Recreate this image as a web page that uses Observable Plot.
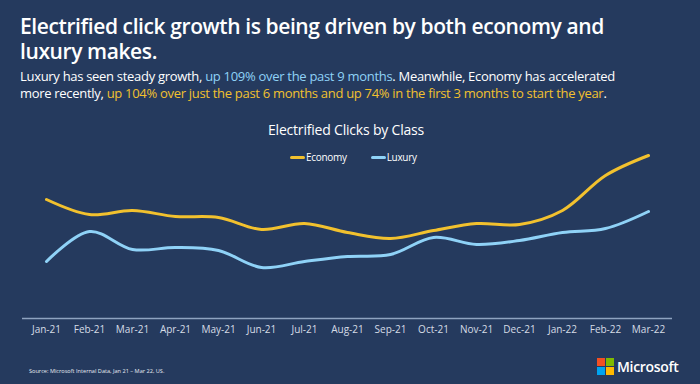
<!DOCTYPE html>
<html>
<head>
<meta charset="utf-8">
<script src="https://cdn.jsdelivr.net/npm/d3@7"></script>
<script src="https://cdn.jsdelivr.net/npm/@observablehq/plot@0.6"></script>
<style>
  html, body { margin: 0; padding: 0; }
  body { width: 700px; height: 384px; background: #253a5e; position: relative; overflow: hidden;
         font-family: "Open Sans", "Noto Sans", sans-serif; color: #fff; }
  .abs { position: absolute; white-space: nowrap; }
  .tl { left: 20px; font-size: 21px; font-weight: 600; line-height: 21px; letter-spacing: -0.4px; }
  #subtitle { left: 20px; top: 68px; font-size: 13px; line-height: 17px; letter-spacing: -0.3px; }
  .blue { color: #8fd2f7; }
  .gold { color: #f2c12e; }
  #ctitle { left: 0; width: 692px; text-align: center; top: 120px; font-size: 14px; letter-spacing: -0.2px; }
  #legend { top: 150px; font-size: 10px; letter-spacing: -0.3px; display: flex; align-items: center; }
  .sw { display: inline-block; width: 15px; height: 3px; border-radius: 1.5px; margin-right: 1px; }
  #chart { left: 0; top: 110px; }
  #source { left: 29px; top: 367px; font-size: 5.6px; color: #e6ebf2; }
  #logo { left: 597px; top: 358px; width: 17px; height: 17px; display: grid; grid-template-columns: 8px 8px; grid-gap: 1px; }
  #logo div { width: 8px; height: 8px; }
  #ms { left: 617px; top: 357px; font-size: 14px; font-weight: 600; letter-spacing: -0.3px; }
</style>
</head>
<body>
<div class="abs tl" style="top:16px;">Electrified click growth is being driven by both economy and</div>
<div class="abs tl" style="top:41px;">luxury makes.</div>
<div id="subtitle" class="abs">Luxury has seen steady growth, <span class="blue">up 109% over the past 9 months</span>. Meanwhile, Economy has accelerated<br>more recently, <span class="gold">up 104% over just the past 6 months and up 74% in the first 3 months to start the year</span>.</div>
<div id="ctitle" class="abs">Electrified Clicks by Class</div>
<div id="legend" class="abs" style="left:290px;">
  <span class="sw" style="background:#f2c12e"></span><span>Economy</span>
  <span style="width:24px;display:inline-block"></span>
  <span class="sw" style="background:#8fd2f7"></span><span>Luxury</span>
</div>
<div id="chart" class="abs"></div>
<div id="source" class="abs">Source: Microsoft Internal Data, Jan 21 – Mar 22, US.</div>
<div id="logo" class="abs"><div style="background:#f25022"></div><div style="background:#7fba00"></div><div style="background:#00a4ef"></div><div style="background:#ffb900"></div></div>
<div id="ms" class="abs">Microsoft</div>
<script>
const months = ["Jan-21","Feb-21","Mar-21","Apr-21","May-21","Jun-21","Jul-21","Aug-21","Sep-21","Oct-21","Nov-21","Dec-21","Jan-22","Feb-22","Mar-22"];
const economy = [119, 104, 108, 102, 101, 89, 95, 86, 80, 88, 95, 94, 108, 143, 163];
const luxury  = [57, 87, 69, 71, 68, 51, 57, 62, 64, 81, 74, 78, 86, 90, 107];
const seriesNames = ["Economy", "Luxury"];
const seriesColors = ["#f2c12e", "#8fd2f7"];

const rows = [];
months.forEach((m, i) => {
  rows.push({month: m, series: "Economy", value: economy[i]});
  rows.push({month: m, series: "Luxury", value: luxury[i]});
});

const chart = Plot.plot({
  width: 700,
  height: 240,
  marginLeft: 44,
  marginRight: 51,
  marginTop: 28,
  marginBottom: 32,
  style: {background: "transparent", color: "#d5dce6", fontFamily: "Open Sans, Noto Sans, sans-serif", fontSize: "10px"},
  x: {type: "point", domain: months, padding: 0, label: null},
  y: {domain: [0, 180], axis: null},
  color: {domain: seriesNames, range: seriesColors},
  marks: [
    Plot.ruleY([0], {stroke: "#8fa3c0", strokeWidth: 1.5, insetLeft: -22, insetRight: -23}),
    Plot.axisX({tickSize: 0, tickPadding: 7, fill: "#d5dce6", fontSize: 10, label: null}),
    Plot.line(rows, {x: "month", y: "value", z: "series", stroke: "series", strokeWidth: 3, curve: "catmull-rom", strokeLinecap: "round"})
  ]
});
document.getElementById("chart").appendChild(chart);
</script>
</body>
</html>
